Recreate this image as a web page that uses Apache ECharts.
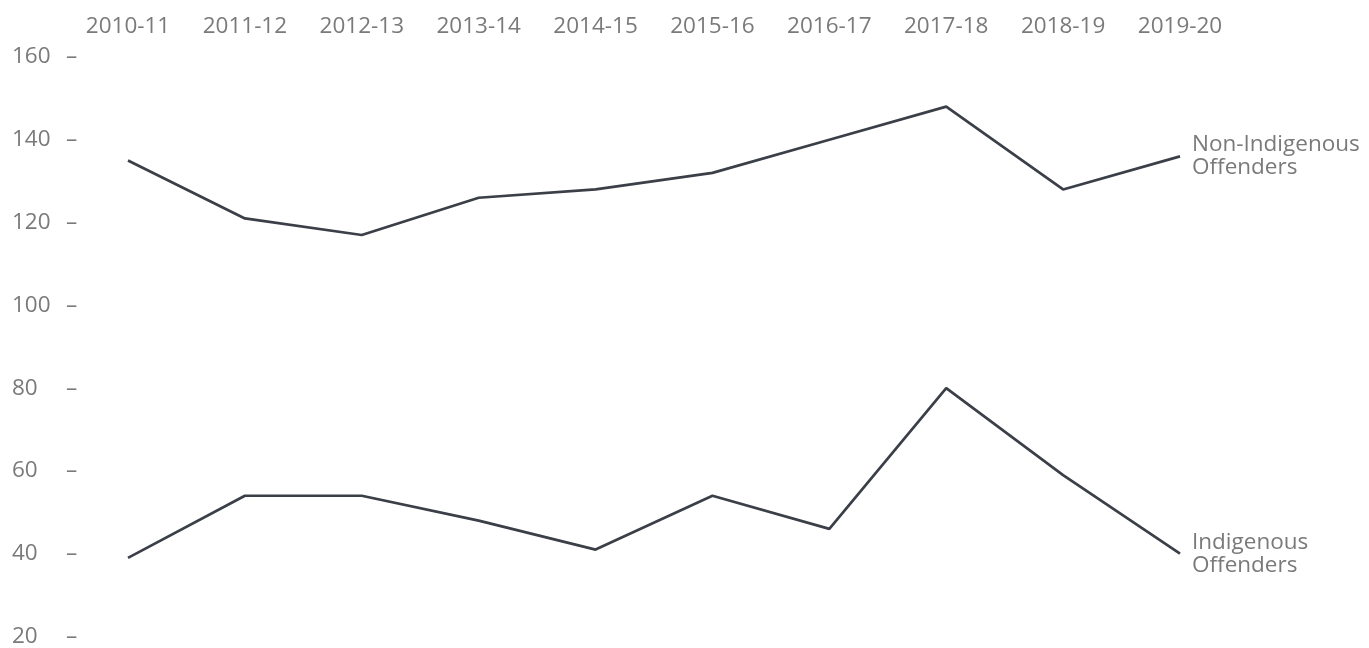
<!DOCTYPE html>
<html>
<head>
<meta charset="utf-8">
<script src="https://cdn.jsdelivr.net/npm/echarts@6/dist/echarts.min.js"></script>
<style>
  html, body { margin: 0; padding: 0; background: #fff; }
  #lineChart { width: 1369px; height: 648px; }
</style>
</head>
<body>
<div id="lineChart"></div>
<script>
let myChart = echarts.init(document.getElementById('lineChart'));

// 年度
const years = ['2010-11', '2011-12', '2012-13', '2013-14', '2014-15', '2015-16', '2016-17', '2017-18', '2018-19', '2019-20'];
const nonIndigenous = [135, 121, 117, 126, 128, 132, 140, 148, 128, 136];
const indigenous = [39, 54, 54, 48, 41, 54, 46, 80, 59, 40];
const yTicks = [20, 40, 60, 80, 100, 120, 140, 160];

const lineColor = '#3b3f48';
const textColor = '#7a7a7a';
const fontFamily = '"Open Sans", sans-serif';
const fs = 22.5;

option = {
  animation: false,
  grid: {
    left: 128,
    right: 189,
    top: 57,
    bottom: 10
  },
  xAxis: {
    type: 'category',
    position: 'top',
    boundaryGap: false,
    data: years,
    axisLine: { show: false },
    axisTick: { show: false },
    splitLine: { show: false },
    axisLabel: {
      color: textColor,
      fontSize: fs,
      fontFamily: fontFamily,
      margin: 19
    }
  },
  yAxis: {
    type: 'value',
    min: 20,
    max: 160,
    interval: 20,
    axisLine: { show: false },
    axisTick: { show: false },
    splitLine: { show: false },
    axisLabel: {
      align: 'left',
      margin: 116,
      formatter: function (value) {
        if (yTicks.indexOf(value) == -1) return '';
        return '{v|' + value + '}{d|–}';
      },
      rich: {
        v: { width: 54, color: textColor, fontSize: fs, fontFamily: fontFamily },
        d: { color: textColor, fontSize: fs, fontFamily: fontFamily }
      }
    }
  },
  series: [
    {
      name: 'Non-Indigenous Offenders',
      type: 'line',
      data: nonIndigenous,
      symbol: 'none',
      lineStyle: { color: lineColor, width: 2.7 },
      endLabel: {
        show: true,
        formatter: 'Non-Indigenous\nOffenders',
        color: textColor,
        fontSize: fs,
        lineHeight: 23,
        fontFamily: fontFamily,
        distance: 12
      }
    },
    {
      name: 'Indigenous Offenders',
      type: 'line',
      data: indigenous,
      symbol: 'none',
      lineStyle: { color: lineColor, width: 2.7 },
      endLabel: {
        show: true,
        formatter: 'Indigenous\nOffenders',
        color: textColor,
        fontSize: fs,
        lineHeight: 23,
        fontFamily: fontFamily,
        distance: 12
      }
    }
  ]
};

myChart.setOption(option);
</script>
</body>
</html>
